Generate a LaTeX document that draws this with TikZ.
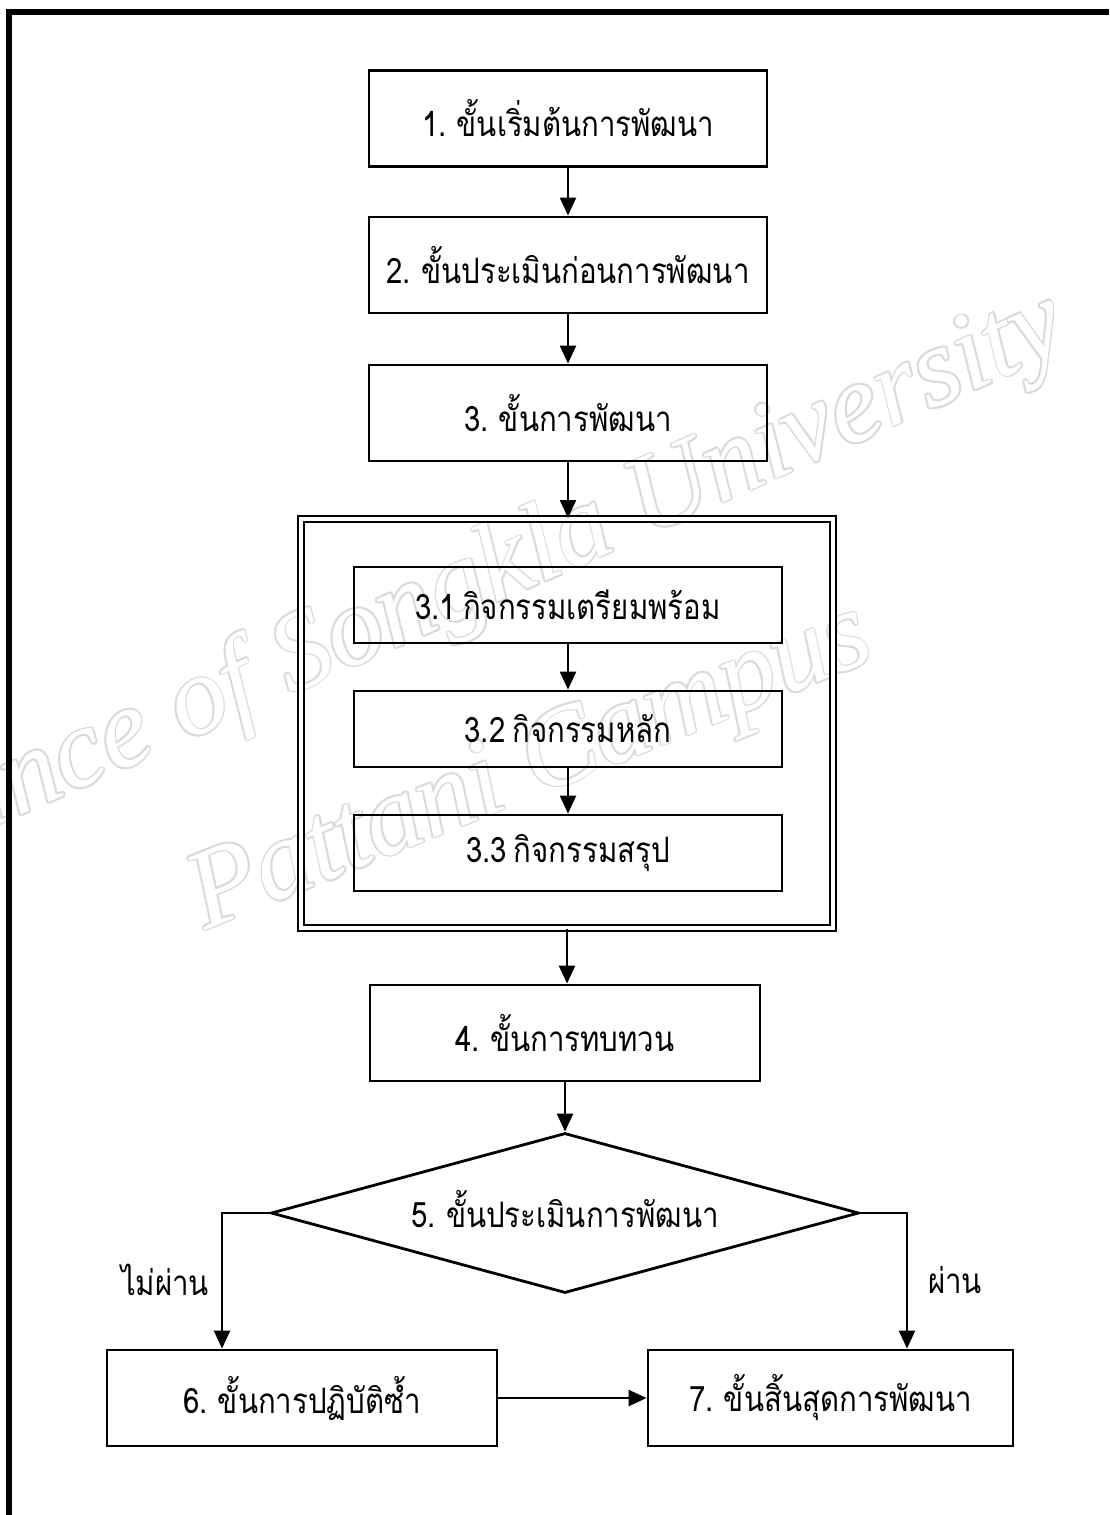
\documentclass[tikz,border=0pt]{standalone}
\usepackage{fontspec}
\newfontfamily\thaifont[Script=Thai, FakeStretch=0.84, WordSpace=0.7]{Loma}
\newfontfamily\wmfont{Liberation Serif}
\usetikzlibrary{shapes.geometric,arrows.meta}
\definecolor{wmline}{RGB}{218,218,218}

\begin{document}
\begin{tikzpicture}[x=0.5pt,y=-0.5pt,
  thai/.style={font=\thaifont\fontsize{17.5}{21}\selectfont},
  stepbox/.style={draw, rectangle, line width=1.4pt, inner sep=0pt, thai},
  bigbox/.style={stepbox, minimum width=199pt, minimum height=48pt},
  subbox/.style={stepbox, minimum width=214pt, minimum height=38pt},
  decision/.style={draw, diamond, line width=1.4pt, inner sep=0pt, aspect=3.6,
    minimum width=294pt, minimum height=80pt, thai},
  frame/.style={draw, rectangle, line width=1pt, double, double distance=2pt, inner sep=0pt},
  flow/.style={line width=1.15pt, -{Triangle[length=9pt,width=8pt]}},
  wm/.style={font=\wmfont\itshape\fontsize{56}{62}\selectfont, inner sep=0pt}
]
\useasboundingbox (0,0) rectangle (1109,1515);

% faint outlined watermark behind the chart
\foreach \a in {0,45,...,315}{
  \node[wm, rotate=24, text=wmline, shift={(\a:0.9pt)}] (wma\a) at (468,586) {Prince of Songkla University};
  \node[wm, rotate=22, text=wmline, shift={(\a:0.9pt)}] (wmb\a) at (532,771) {Pattani Campus};
}
\node[wm, rotate=24, text=white] (wma) at (468,586) {Prince of Songkla University};
\node[wm, rotate=22, text=white] (wmb) at (532,771) {Pattani Campus};

% page frame
\draw[line width=3pt, line join=miter] (8.5,1515) -- (8.5,12) -- (1109,12);

% main steps
\node[bigbox] (b1) at (568,118.5) {1. ขั้นเริ่มต้นการพัฒนา};
\node[bigbox] (b2) at (568,265) {2. ขั้นประเมินก่อนการพัฒนา};
\node[bigbox] (b3) at (568,413) {3. ขั้นการพัฒนา};

% development activities
\node[frame, minimum width=266.25pt, minimum height=204.5pt] (dbox) at (567,723.5) {};
\node[subbox] (s1) at (568,605) {3.1 กิจกรรมเตรียมพร้อม};
\node[subbox] (s2) at (568,729) {3.2 กิจกรรมหลัก};
\node[subbox] (s3) at (568,853) {3.3 กิจกรรมสรุป};

\node[stepbox, minimum width=195pt, minimum height=48pt] (b4) at (565,1033) {4. ขั้นการทบทวน};
\node[decision] (dia) at (565,1213) {\raisebox{4pt}{5. ขั้นประเมินการพัฒนา}};
\node[stepbox, minimum width=195pt, minimum height=48pt] (b6) at (302,1398) {6. ขั้นการปฏิบัติซ้ำ};
\node[stepbox, minimum width=182.5pt, minimum height=48pt] (b7) at (830.5,1398) {7. ขั้นสิ้นสุดการพัฒนา};

\node[thai] (nfail) at (165,1280) {ไม่ผ่าน};
\node[thai] (npass) at (955,1280) {ผ่าน};

\coordinate (lc) at (222,1213);
\coordinate (rc) at (907,1213);

% connectors
\draw[flow] (b1.south) -- (b2.north);
\draw[flow] (b2.south) -- (b3.north);
\draw[flow] (b3.south) -- (b3.south |- dbox.north);
\draw[flow] (s1.south) -- (s2.north);
\draw[flow] (s2.south) -- (s3.north);
\draw[flow] (dbox.south) -- (dbox.south |- b4.north);
\draw[flow] (b4.south) -- (dia.north);
\draw[flow] (dia.west) -- (lc) -- (lc |- b6.north);
\draw[flow] (dia.east) -- (rc) -- (rc |- b7.north);
\draw[flow] (b6.east) -- (b7.west);
\end{tikzpicture}
\end{document}
